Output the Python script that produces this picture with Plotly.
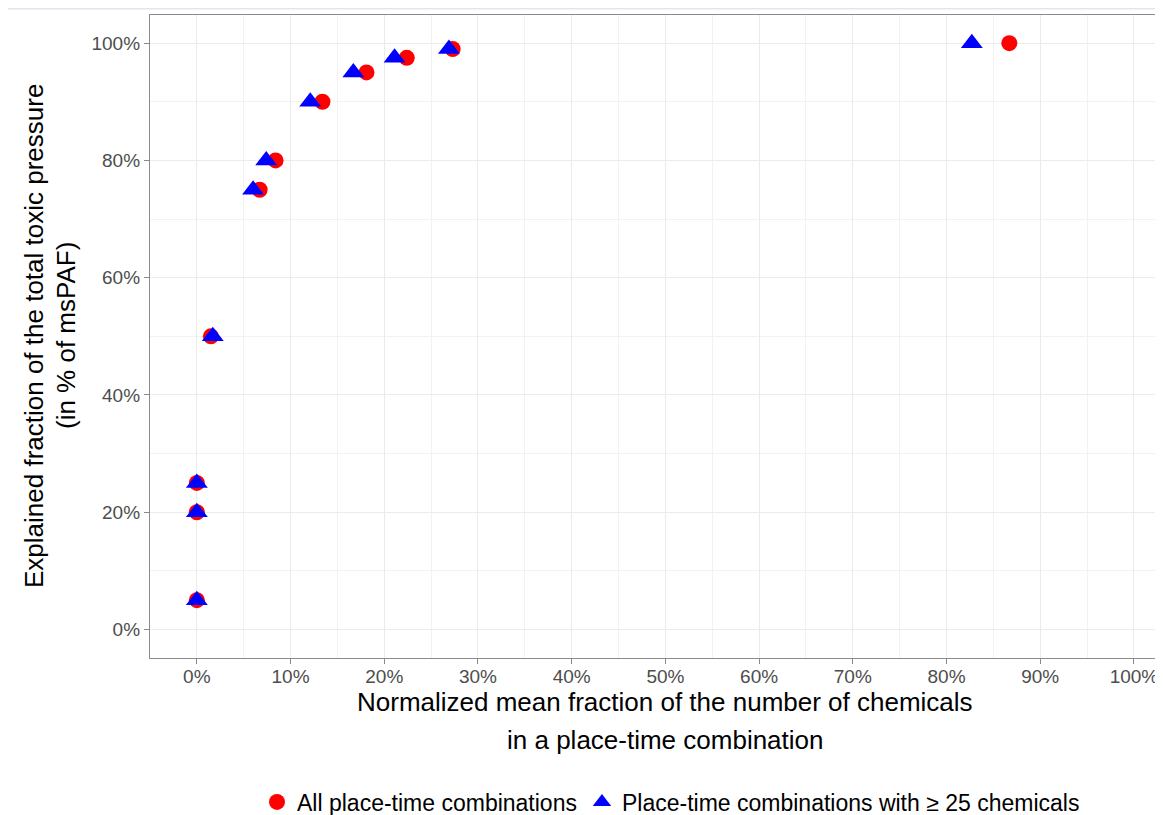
import plotly.graph_objects as go

# Explained fraction of total toxic pressure (y) for each threshold
y_all = [0.05, 0.20, 0.25, 0.50, 0.75, 0.80, 0.90, 0.95, 0.975, 0.99, 1.00]
x_all = [0.0, 0.0, 0.0, 0.015, 0.067, 0.084, 0.134, 0.181, 0.224, 0.273, 0.867]

y_25 = [0.05, 0.20, 0.25, 0.50, 0.75, 0.80, 0.90, 0.95, 0.975, 0.99, 1.00]
x_25 = [0.0, 0.0, 0.0, 0.017, 0.060, 0.074, 0.121, 0.167, 0.211, 0.269, 0.827]

name_all = "All place-time combinations"
name_25 = "Place-time combinations with ≥ 25 chemicals"

x_title = ["Normalized mean fraction of the number of chemicals", "in a place-time combination"]
y_title = ["Explained fraction of the total toxic pressure", "(in % of msPAF)"]

FONT = "Liberation Sans, Arial, sans-serif"
OFF = 8  # page body margin offset
W, H = 1163 - OFF, 815 - OFF
L, R, T = 150 - OFF, 0, 15 - OFF
B = H - (658 - OFF)
PW, PH = W - L - R, H - T - B

def px2x(px):
    return (px - OFF - L) / PW

def py2y(py):
    return (H - B - (py - OFF)) / PH

fig = go.Figure()
fig.add_trace(go.Scatter(x=x_all, y=y_all, mode="markers", name=name_all,
                         marker=dict(symbol="circle", size=16, color="#FF0000", line=dict(width=0))))
fig.add_trace(go.Scatter(x=x_25, y=y_25, mode="markers", name=name_25,
                         marker=dict(symbol="triangle-up", size=19, color="#0000FF", line=dict(width=0))))

axis_common = dict(
    showline=True, linecolor="#8a8a8a", linewidth=1.3,
    ticks="outside", ticklen=5, tickcolor="#8a8a8a", tickwidth=1,
    gridcolor="#EBEBEB", gridwidth=1.2, zeroline=False, automargin=False,
    tickfont=dict(family=FONT, size=19, color="#4D4D4D"),
    tickformat=".0%",
)

fig.update_layout(
    width=W, height=H,
    margin=dict(l=L, r=R, t=T, b=B, autoexpand=False),
    paper_bgcolor="white", plot_bgcolor="white",
    font=dict(family=FONT, color="black"),
    xaxis=dict(range=[-0.05, 1.031], dtick=0.1, tick0=0, ticklabelstandoff=-4, mirror=True,
               minor=dict(dtick=0.05, showgrid=True, gridcolor="#F2F2F2", gridwidth=1),
               **axis_common),
    yaxis=dict(range=[-0.0486, 1.048], dtick=0.2, tick0=0, mirror=False,
               minor=dict(dtick=0.1, showgrid=True, gridcolor="#F2F2F2", gridwidth=1),
               **axis_common),
    showlegend=True,
    legend=dict(orientation="h", x=px2x(671), xanchor="center", y=py2y(802), yanchor="middle",
                font=dict(family=FONT, size=23, color="black"),
                itemsizing="trace", traceorder="normal", bgcolor="rgba(0,0,0,0)"),
)

# faint top rule
fig.add_shape(type="line", xref="paper", yref="paper", x0=px2x(0), x1=1.0,
              y0=py2y(8.8), y1=py2y(8.8),
              line=dict(color="#DFE6EE", width=1.5))

# axis titles as annotations (pixel-matched line spacing)
def ann(text, px, py, angle=0):
    fig.add_annotation(text=text, xref="paper", yref="paper",
                       x=px2x(px), y=py2y(py), showarrow=False, textangle=angle,
                       xanchor="center", yanchor="middle", font=dict(family=FONT, size=26, color="black"))

ann(x_title[0], 665, 702)
ann(x_title[1], 665, 740)
ann(y_title[0], 34, 336, -90)
ann(y_title[1], 66, 336, -90)

fig.write_html("out.html")
